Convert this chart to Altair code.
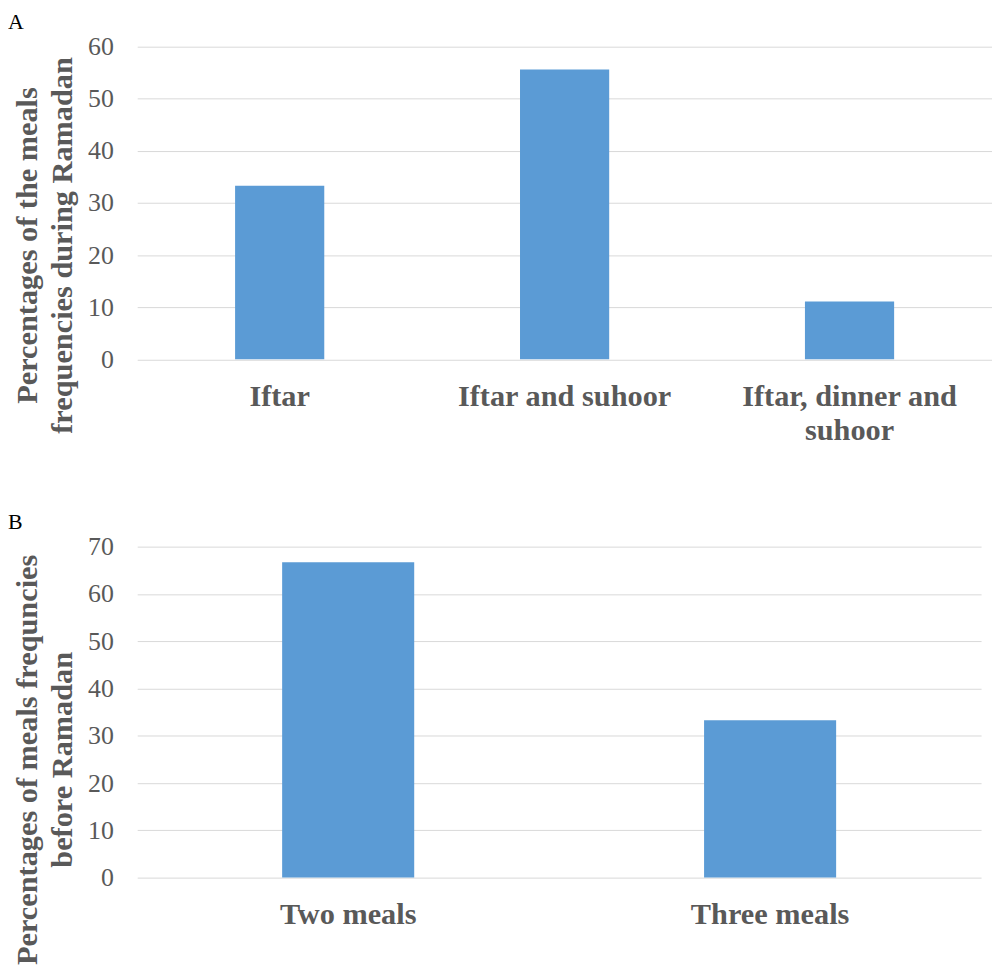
import altair as alt
import pandas as pd

# ---- data ----
cats_a = ["Iftar", "Iftar and suhoor", "Iftar, dinner and suhoor"]
vals_a = [33.3, 55.6, 11.1]
ticks_a = [0, 10, 20, 30, 40, 50, 60]
ytitle_a = ["Percentages of the meals", "frequencies during Ramadan"]

cats_b = ["Two meals", "Three meals"]
vals_b = [66.7, 33.3]
ticks_b = [0, 10, 20, 30, 40, 50, 60, 70]
ytitle_b = ["Percentages of meals frequncies", "before Ramadan"]

FONT = "Liberation Serif"
GRAY = "#595959"
BAR = "#5B9BD5"
GRID = "#D9D9D9"

WRAP_EXPR = ("datum.label == 'Iftar, dinner and suhoor' ? "
             "['Iftar, dinner and', 'suhoor'] : datum.label")


def panel(cats, vals, ticks, ytitle, letter, w, h, title_y):
    df = pd.DataFrame({"cat": cats, "val": vals})
    return alt.Chart(df).mark_bar(color=BAR).encode(
        x=alt.X(
            "cat:N", sort=cats, title=None,
            scale=alt.Scale(paddingInner=0.687, paddingOuter=0.3435),
            axis=alt.Axis(
                labelAngle=0, ticks=False, domain=False, grid=False,
                labelFont=FONT, labelFontSize=30.5, labelFontWeight="bold",
                labelColor=GRAY, labelBaseline="top", labelPadding=22.5,
                labelLimit=600, labelLineHeight=34, labelOverlap=False,
                labelExpr=WRAP_EXPR,
            ),
        ),
        y=alt.Y(
            "val:Q", title=ytitle,
            scale=alt.Scale(domain=[ticks[0], ticks[-1]], nice=False),
            axis=alt.Axis(
                values=ticks, ticks=False, domain=False, grid=True,
                gridColor=GRID, gridWidth=1,
                labelFont=FONT, labelFontSize=26, labelColor=GRAY,
                labelPadding=24,
                titleFont=FONT, titleFontSize=30.5, titleFontWeight="bold",
                titleColor=GRAY, titleBaseline="top", titleLineHeight=35.5,
                titleX=-125.3, titleY=title_y, titleAngle=270,
                titleLimit=1000,
            ),
        ),
    ).properties(
        width=w, height=h,
        title=alt.TitleParams(
            letter, anchor="start", frame="group", dx=-130, offset=0,
            fontSize=22, font=FONT, fontWeight="normal", color="black",
            baseline="top",
        ),
    )


a = panel(cats_a, vals_a, ticks_a, ytitle_a, "A", 860, 314.5, 199.5)
b = panel(cats_b, vals_b, ticks_b, ytitle_b, "B", 849, 333, 214)

chart = alt.vconcat(a, b, spacing=188, bounds="flush").properties(
    padding={"left": 0, "top": 0, "right": 0, "bottom": 0}
).configure_view(stroke=None)

chart.save("out.html", embed_options={"renderer": "svg", "actions": False})
